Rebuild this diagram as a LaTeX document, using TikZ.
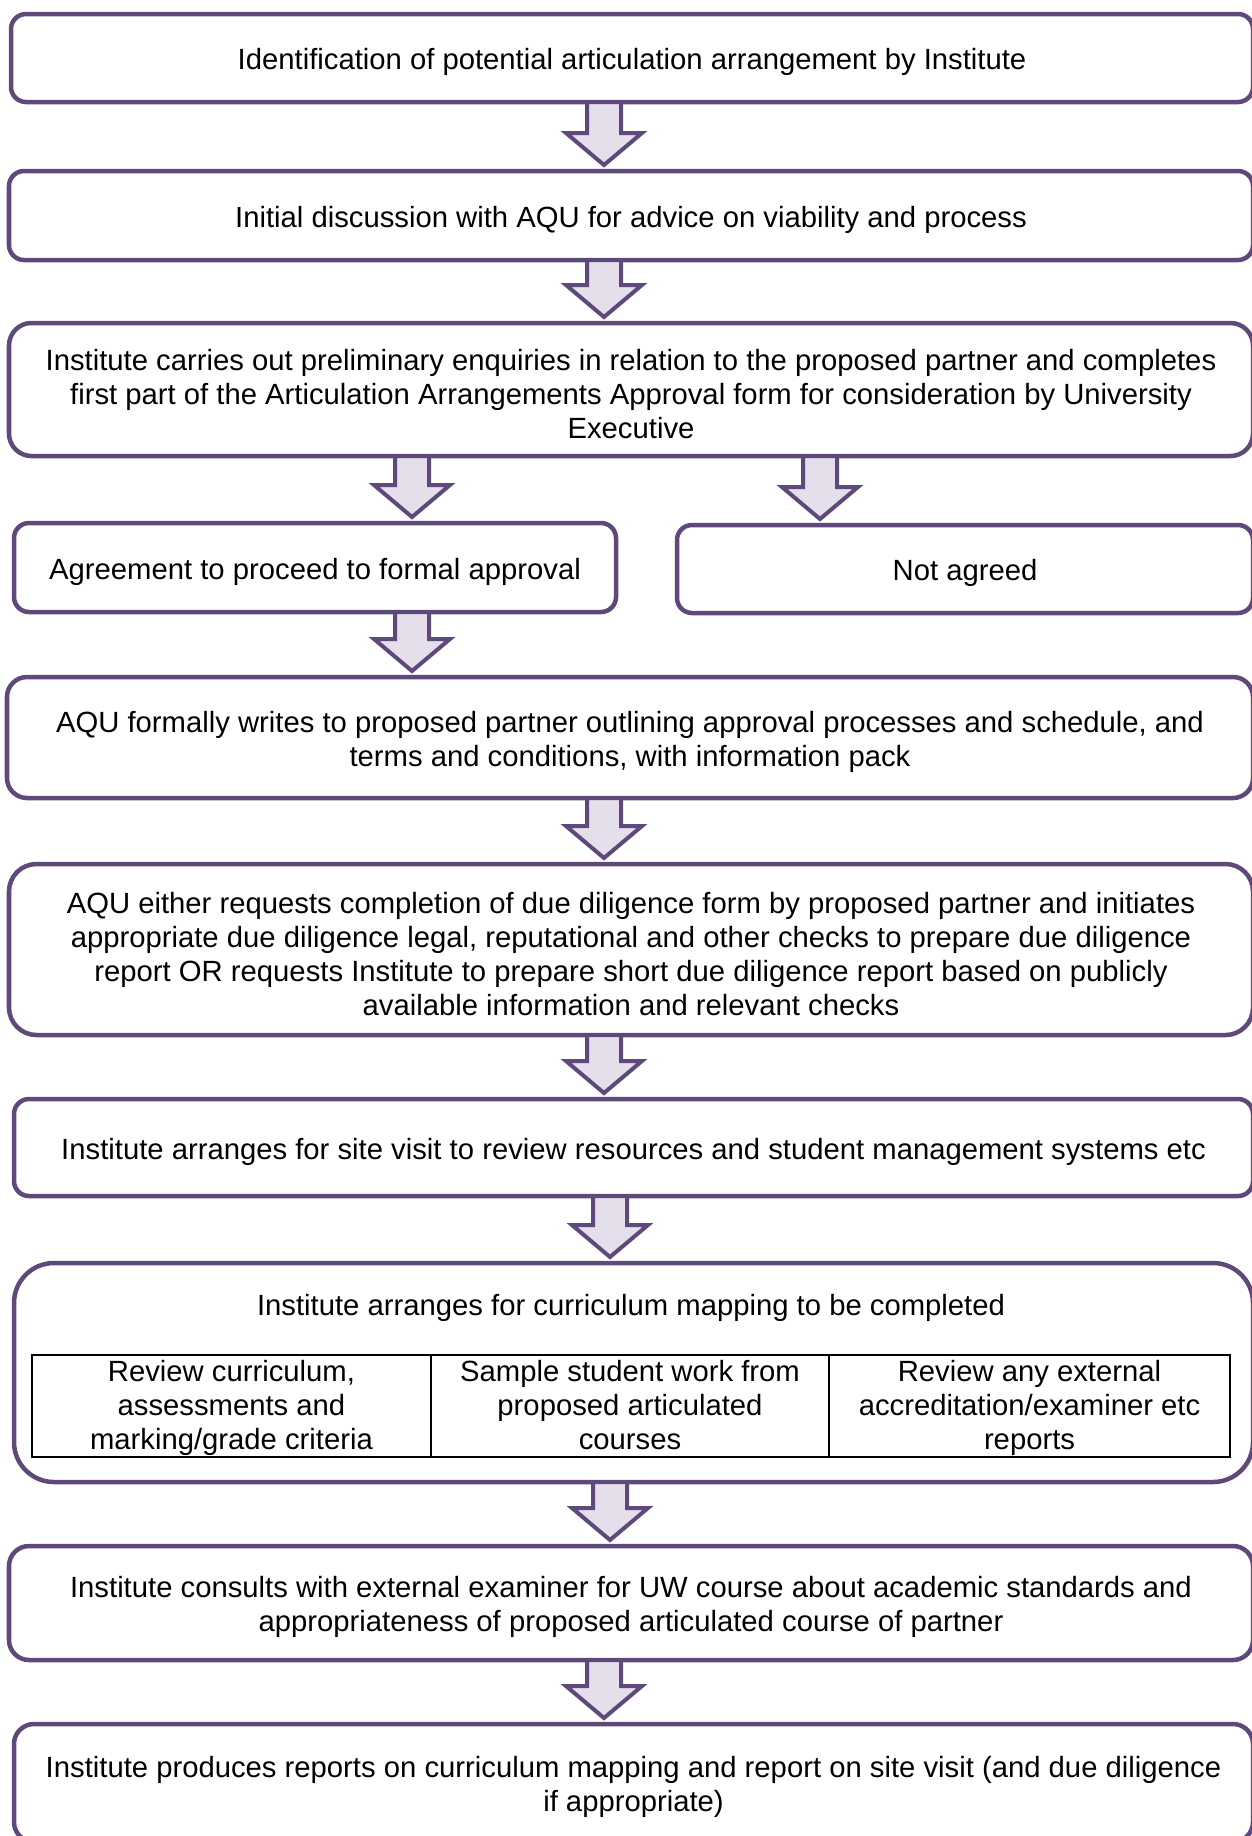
\documentclass[tikz,border=0pt]{standalone}
\usepackage{fontspec}
\setmainfont{Liberation Sans}
\usetikzlibrary{calc, positioning}
\definecolor{flowpurple}{RGB}{95,73,122}
\definecolor{flowlilac}{RGB}{229,223,236}
\newcommand{\toppad}{\rule{0pt}{12pt}}
\newcommand{\cellpad}{\rule{0pt}{10.6pt}}
\newcommand{\cellend}{\rule[-2.8pt]{0pt}{2.8pt}}

\begin{document}
\begin{tikzpicture}[
    x=0.4pt, y=-0.4pt,
    font=\fontsize{11.7}{13.6}\selectfont,
    lowered/.style={execute at begin node={\rule{0pt}{11.7pt}}},
    stage/.style={rectangle, draw=flowpurple, line width=1.8pt, rounded corners=6pt,
        align=center, anchor=north west, inner sep=0pt, outer sep=0pt, lowered},
    cell/.style={rectangle, draw=black, line width=0.8pt, align=center,
        inner sep=0pt, outer sep=0pt, minimum height=40.8pt},
    blockarrow/.style={draw=flowpurple, fill=flowlilac, line width=1.6pt,
        to path={let \p1=(\tikztostart), \p2=(\tikztotarget) in
            (\x1-6.8pt,\y1) -- (\x1-6.8pt,\y2+15.2pt) -- (\x1-15.2pt,\y2+15.2pt)
            -- (\x1,\y2+2.4pt) -- (\x1+15.2pt,\y2+15.2pt) -- (\x1+6.8pt,\y2+15.2pt)
            -- (\x1+6.8pt,\y1) -- cycle}}
]
\useasboundingbox (0,0) rectangle (1252,1836);

% Nodes
\node[stage, minimum width=496.8pt, minimum height=35.2pt] (Identify) at (11,14)
    {Identification of potential articulation arrangement by Institute};
\node[stage, minimum width=497.6pt, minimum height=35.6pt] (Discuss) at (9,171)
    {Initial discussion with AQU for advice on viability and process};
\node[stage, minimum width=497.6pt, minimum height=53.2pt, rounded corners=9pt] (Enquiries) at (9,323)
    {\toppad Institute carries out preliminary enquiries in relation to the proposed partner and completes\\
     first part of the Articulation Arrangements Approval form for consideration by University\\
     Executive};
\node[stage, minimum width=240.8pt, minimum height=35.6pt] (Agree) at (14,523)
    {Agreement to proceed to formal approval};
\node[stage, minimum width=230.4pt, minimum height=35.2pt] (NotAgreed) at (677,525)
    {Not agreed};
\node[stage, minimum width=498.4pt, minimum height=48.4pt, rounded corners=8pt] (Writes) at (7,677)
    {\toppad AQU formally writes to proposed partner outlining approval processes and schedule, and\\
     terms and conditions, with information pack};
\node[stage, minimum width=497.6pt, minimum height=68.4pt, rounded corners=11pt] (Diligence) at (9,864)
    {\toppad AQU either requests completion of due diligence form by proposed partner and initiates\\
     appropriate due diligence legal, reputational and other checks to prepare due diligence\\
     report OR requests Institute to prepare short due diligence report based on publicly\\
     available information and relevant checks};
\node[stage, minimum width=495.6pt, minimum height=38.8pt] (SiteVisit) at (14,1099)
    {Institute arranges for site visit to review resources and student management systems etc};
\node[stage, minimum width=495.6pt, minimum height=87.6pt, rounded corners=16pt] (Mapping) at (14,1263) {};
\node[lowered] (MappingTitle) at (631,1304) {Institute arranges for curriculum mapping to be completed};
\node[cell, minimum width=159.6pt, anchor=north west] (Curriculum) at (32,1355)
    {\cellpad Review curriculum,\\ assessments and\\ marking/grade criteria\cellend};
\node[cell, minimum width=159.2pt, right=0pt of Curriculum] (Sample)
    {\cellpad Sample student work from\\ proposed articulated\\ courses\cellend};
\node[cell, minimum width=160.4pt, right=0pt of Sample] (External)
    {\cellpad Review any external\\ accreditation/examiner etc\\ reports\cellend};
\node[stage, minimum width=497.6pt, minimum height=45.6pt, rounded corners=8pt] (Consult) at (9,1546)
    {\toppad Institute consults with external examiner for UW course about academic standards and\\
     appropriateness of proposed articulated course of partner};
\node[stage, minimum width=495.6pt, minimum height=47.2pt, rounded corners=8pt] (Reports) at (14,1724)
    {\toppad Institute produces reports on curriculum mapping and report on site visit (and due diligence\\
     if appropriate)};

% Arrow columns
\coordinate (mid) at (604,0);
\coordinate (midr) at (610,0);
\coordinate (lft) at (412,0);
\coordinate (rgt) at (820,0);

% Paths
\draw[blockarrow] (Identify.south -| mid) to (Discuss.north -| mid);
\draw[blockarrow] (Discuss.south -| mid) to (Enquiries.north -| mid);
\draw[blockarrow] (Enquiries.south -| lft) to (Agree.north -| lft);
\draw[blockarrow] (Enquiries.south -| rgt) to (NotAgreed.north -| rgt);
\draw[blockarrow] (Agree.south -| lft) to (Writes.north -| lft);
\draw[blockarrow] (Writes.south -| mid) to (Diligence.north -| mid);
\draw[blockarrow] (Diligence.south -| mid) to (SiteVisit.north -| mid);
\draw[blockarrow] (SiteVisit.south -| midr) to (Mapping.north -| midr);
\draw[blockarrow] (Mapping.south -| midr) to (Consult.north -| midr);
\draw[blockarrow] (Consult.south -| mid) to (Reports.north -| mid);

\end{tikzpicture}
\end{document}
